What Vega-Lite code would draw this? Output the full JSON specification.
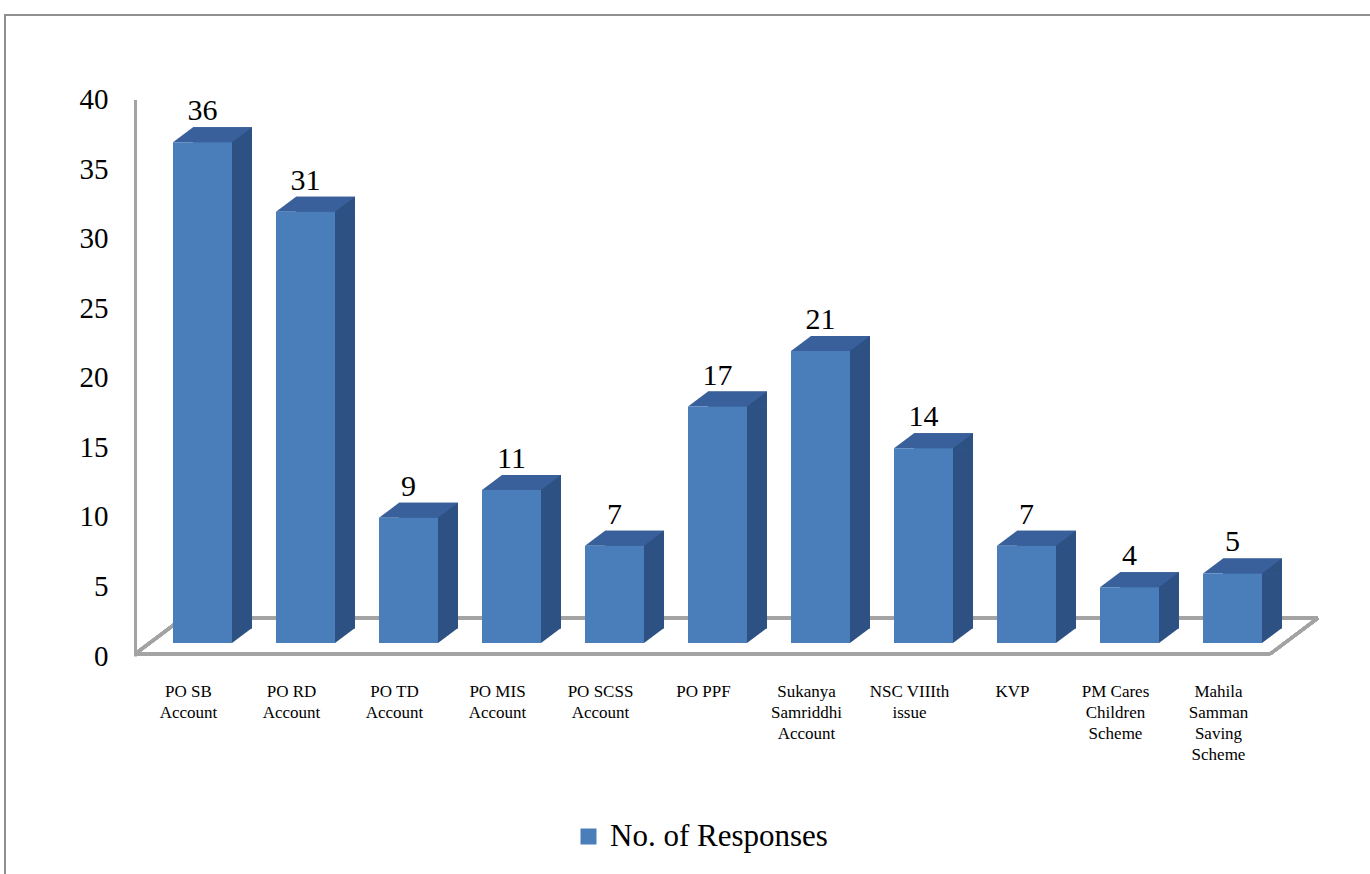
{
  "$schema": "https://vega.github.io/schema/vega-lite/v6.json",
  "width": 1368,
  "height": 862,
  "autosize": "none",
  "padding": {"left": 5, "top": 15, "right": -3, "bottom": -3},
  "background": "white",
  "config": {
    "view": {"stroke": "#8f8f8f", "strokeWidth": 2},
    "font": "Liberation Serif"
  },
  "data": {
    "values": [
      {"scheme": "PO SB\nAccount", "n": 36},
      {"scheme": "PO RD\nAccount", "n": 31},
      {"scheme": "PO TD\nAccount", "n": 9},
      {"scheme": "PO MIS\nAccount", "n": 11},
      {"scheme": "PO SCSS\nAccount", "n": 7},
      {"scheme": "PO PPF", "n": 17},
      {"scheme": "Sukanya\nSamriddhi\nAccount", "n": 21},
      {"scheme": "NSC VIIIth\nissue", "n": 14},
      {"scheme": "KVP", "n": 7},
      {"scheme": "PM Cares\nChildren\nScheme", "n": 4},
      {"scheme": "Mahila\nSamman\nSaving\nScheme", "n": 5}
    ]
  },
  "encoding": {
    "x": {
      "field": "scheme", "type": "nominal", "sort": null, "axis": null,
      "scale": {
        "type": "band",
        "domain": ["PO SB\nAccount", "PO RD\nAccount", "PO TD\nAccount", "PO MIS\nAccount", "PO SCSS\nAccount", "PO PPF", "Sukanya\nSamriddhi\nAccount", "NSC VIIIth\nissue", "KVP", "PM Cares\nChildren\nScheme", "Mahila\nSamman\nSaving\nScheme"],
        "range": [168, 1257], "paddingInner": 0.4272, "paddingOuter": 0
      }
    },
    "y": {
      "field": "n", "type": "quantitative",
      "scale": {"domain": [0, 40], "range": [641, 84.6], "nice": false},
      "axis": {
        "values": [0, 5, 10, 15, 20, 25, 30, 35, 40],
        "orient": "left", "offset": -130, "title": null, "grid": false,
        "ticks": false, "tickSize": 0,
        "domainColor": "#a3a3a3", "domainWidth": 3,
        "labelFont": "Liberation Serif", "labelFontSize": 29, "labelColor": "#000000",
        "labelPadding": 27
      }
    }
  },
  "layer": [
    {
      "mark": {"type": "rule", "color": "#a3a3a3", "strokeWidth": 3, "xOffset": -19.5, "x2Offset": 85.5, "yOffset": -38},
      "encoding": {
        "x": {"datum": "PO SB\nAccount"},
        "x2": {"datum": "Mahila\nSamman\nSaving\nScheme"},
        "y": {"datum": 0}
      }
    },
    {
      "mark": {"type": "rule", "color": "#a3a3a3", "strokeWidth": 3, "xOffset": -67.5, "x2Offset": 37.5, "yOffset": -2},
      "encoding": {
        "x": {"datum": "PO SB\nAccount"},
        "x2": {"datum": "Mahila\nSamman\nSaving\nScheme"},
        "y": {"datum": 0}
      }
    },
    {
      "mark": {"type": "rule", "color": "#a3a3a3", "strokeWidth": 3, "xOffset": -67.5, "x2Offset": -19.5, "yOffset": -2, "y2Offset": -38},
      "encoding": {
        "x": {"datum": "PO SB\nAccount"},
        "x2": {"datum": "PO SB\nAccount"},
        "y": {"datum": 0},
        "y2": {"datum": 0}
      }
    },
    {
      "mark": {"type": "rule", "color": "#a3a3a3", "strokeWidth": 3, "xOffset": 37.5, "x2Offset": 85.5, "yOffset": -2, "y2Offset": -38},
      "encoding": {
        "x": {"datum": "Mahila\nSamman\nSaving\nScheme"},
        "x2": {"datum": "Mahila\nSamman\nSaving\nScheme"},
        "y": {"datum": 0},
        "y2": {"datum": 0}
      }
    },
    {
      "mark": {"type": "bar", "color": "#2d5183", "xOffset": 20, "x2Offset": 20, "yOffset": -28, "y2Offset": -27.5},
      "encoding": {"y2": {"datum": 0}}
    },
    {
      "mark": {"type": "bar", "color": "#39609a", "xOffset": 20, "x2Offset": 20, "yOffset": -28, "y2Offset": -13},
      "encoding": {"y2": {"field": "n"}}
    },
    {
      "mark": {"type": "point", "shape": "M-1,0.75L1,-0.75L1,0.75Z", "size": 400, "filled": true, "opacity": 1, "color": "#2d5183", "xOffset": 39.5, "yOffset": -20.5}
    },
    {
      "mark": {"type": "point", "shape": "M-1,0.75L1,-0.75L1,0.75Z", "size": 400, "filled": true, "opacity": 1, "color": "#39609a", "xOffset": -19.5, "yOffset": -20.5}
    },
    {
      "mark": {"type": "point", "shape": "M-1,-0.75L1,-0.75L-1,0.75Z", "size": 400, "filled": true, "opacity": 1, "color": "#2d5183", "xOffset": 39.5, "yOffset": -20.5},
      "encoding": {"y": {"datum": 0}}
    },
    {
      "mark": {"type": "bar", "yOffset": -13, "y2Offset": -13},
      "encoding": {
        "y2": {"datum": 0},
        "color": {
          "datum": "No. of Responses", "type": "nominal",
          "scale": {"range": ["#4a7ebb"]},
          "legend": {
            "orient": "none", "legendX": 568, "legendY": 806, "title": null,
            "symbolType": "square", "symbolSize": 256, "symbolStrokeWidth": 0,
            "labelFont": "Liberation Serif", "labelFontSize": 31, "labelColor": "#000000",
            "labelOffset": 6, "labelLimit": 500, "padding": 0
          }
        }
      }
    },
    {
      "mark": {"type": "text", "fontSize": 30, "font": "Liberation Serif", "color": "#000000", "align": "center", "baseline": "alphabetic", "yOffset": -35},
      "encoding": {"text": {"field": "n", "type": "quantitative"}}
    },
    {
      "mark": {"type": "text", "fontSize": 17, "font": "Liberation Serif", "color": "#000000", "align": "center", "baseline": "alphabetic", "lineBreak": "\n", "lineHeight": 21, "xOffset": -14, "yOffset": 41},
      "encoding": {
        "y": {"datum": 0},
        "text": {"field": "scheme", "type": "nominal"}
      }
    }
  ]
}
